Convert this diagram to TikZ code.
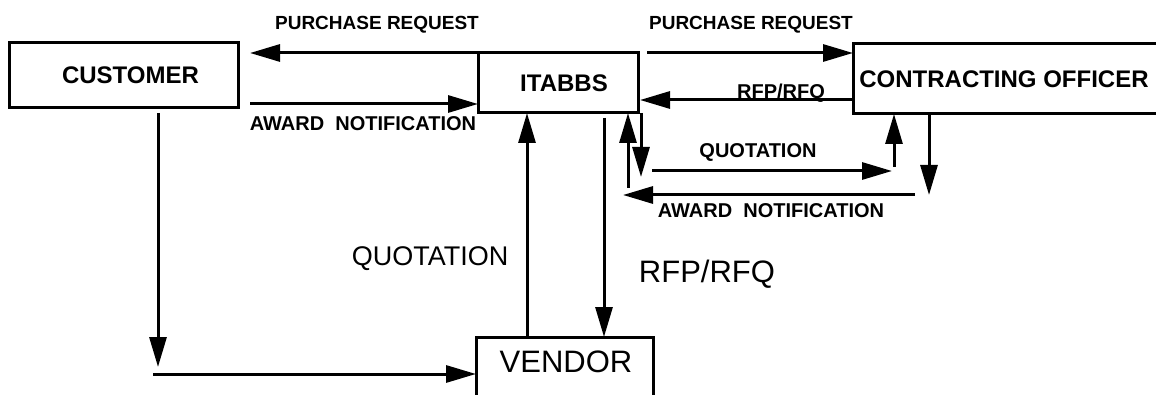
\documentclass[tikz,border=0pt]{standalone}
\usepackage{fontspec}
\setmainfont{Liberation Sans}
\usetikzlibrary{arrows.meta,calc}
\tikzset{
  box/.style={draw, line width=3pt, inner sep=0pt, outer sep=0pt, font=\fontsize{24}{24}\selectfont\bfseries},
  arr/.style={line width=3pt, -{Triangle[length=30pt,width=17pt]}},
  slbl/.style={inner sep=0pt, font=\fontsize{20}{20}\selectfont\bfseries, text height=14.3pt, text depth=0pt},
  blbl/.style={inner sep=0pt, font=\fontsize{#1}{#1}\selectfont, text height=0.716*#1 pt, text depth=0pt},
}
\begin{document}
\begin{tikzpicture}[x=1pt,y=-1pt]
\useasboundingbox[fill=white] (0,0) rectangle (1156,395);
% boxes
\node[box, minimum width=229pt, minimum height=65pt] (cust) at (123.5,75.5) {\hspace*{14pt}CUSTOMER};
\node[box, minimum width=160pt, minimum height=60pt] (itabbs) at (558,83) {\hspace*{12pt}ITABBS};
\node[box, minimum width=310pt, minimum height=70pt] (co) at (1008,79) {\hspace*{-8pt}CONTRACTING OFFICER};
\node[box, font=\fontsize{31}{31}\selectfont, minimum width=177pt, minimum height=80pt] (vendor) at (564.5,377) {\hspace*{3pt}\raisebox{30pt}{VENDOR}};
% free-end coordinates
\coordinate (awLs) at (250,104);
\coordinate (quoS) at (652,171);
\coordinate (awRs) at (915,195);
\coordinate (custDs) at (158,113);
\coordinate (custHs) at (153,374);
% customer <-> itabbs
\draw[arr] (itabbs.north west) -- ($(cust.north east |- itabbs.north west)+(12,0)$);
\draw[arr] (awLs) -- (awLs -| itabbs.west);
% itabbs <-> contracting officer
\draw[arr] ($(itabbs.north east)+(9,0)$) coordinate (prRs) -- (prRs -| co.west);
\draw[arr] ($(co.west)+(0,21)$) coordinate (rfpS) -- ($(rfpS -| itabbs.east)+(2,0)$);
\draw[arr] ($(itabbs.south east)+(-10,75)$) coordinate (upS) -- (upS |- itabbs.south);
\draw[arr] ($(itabbs.south east)+(3,0)$) coordinate (dnS) -- ($(dnS)+(0,64)$);
\draw[arr] (quoS) -- ($(quoS)+(240,0)$);
\draw[arr] ($(co.south west)+(41,53)$) coordinate (coUp) -- (coUp |- co.south);
\draw[arr] ($(co.south west)+(76,0)$) coordinate (coDn) -- ($(coDn)+(0,81)$);
\draw[arr] (awRs) -- ($(awRs)+(-292,0)$);
% itabbs <-> vendor
\draw[arr] ($(vendor.north west)+(51,0)$) coordinate (vq) -- (vq |- itabbs.south);
\draw[arr] ($(itabbs.south west)+(126,5)$) coordinate (vr) -- (vr |- vendor.north);
% customer -> vendor
\draw[arr] (custDs) -- ($(custDs)+(0,254)$);
\draw[arr] (custHs) -- (custHs -| vendor.west);
% labels
\node[slbl, font=\fontsize{19}{19}\selectfont\bfseries] (prL) at (377,22) {PURCHASE REQUEST};
\node[slbl, font=\fontsize{19}{19}\selectfont\bfseries] (prR) at (751,22) {PURCHASE REQUEST};
\node[slbl] (awL) at (363,123) {AWARD\ \ NOTIFICATION};
\node[slbl] (rfpT) at (781,91) {RFP/RFQ};
\node[slbl] (quoR) at (758,150) {QUOTATION};
\node[slbl] (awR) at (771,210) {AWARD\ \ NOTIFICATION};
\node[blbl=27] (quoB) at (430,255.5) {QUOTATION};
\node[blbl=31] (rfpB) at (707,271) {RFP/RFQ};
\end{tikzpicture}
\end{document}
